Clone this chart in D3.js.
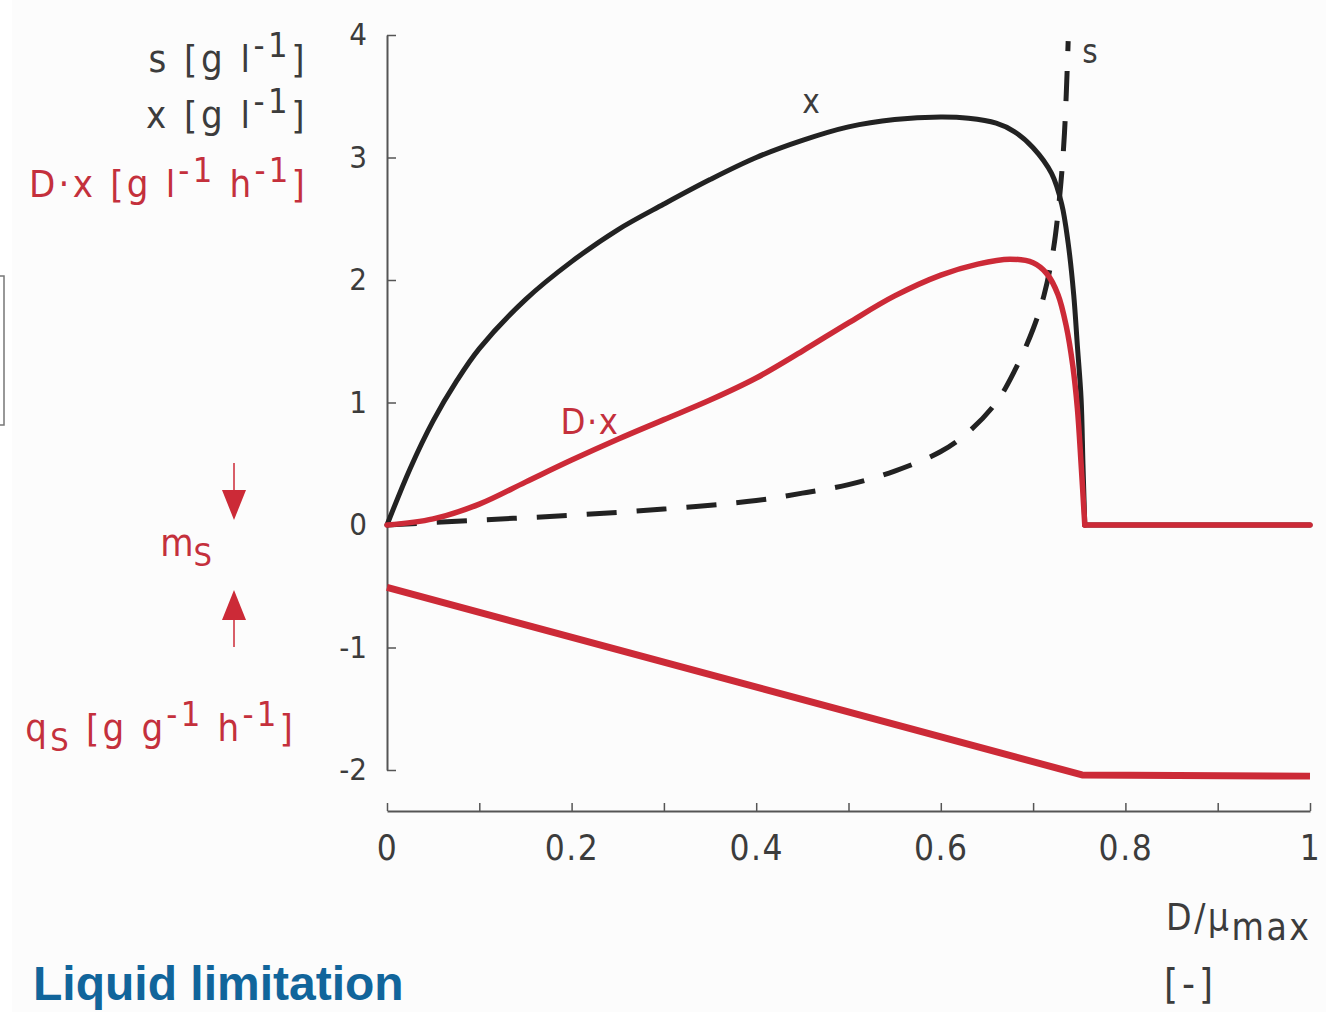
<!DOCTYPE html>
<html>
<head>
<meta charset="utf-8">
<script src="https://cdn.jsdelivr.net/npm/d3@7"></script>
<style>
  html, body { margin: 0; padding: 0; background: #ffffff; }
  svg { display: block; }
  .lbl { font-family: 'DejaVu Sans Condensed', 'DejaVu Sans', sans-serif; }
</style>
</head>
<body>
<svg id="chart" width="1326" height="1012"></svg>
<script>
// ---------- data ----------
const xTickValues = [0, 0.1, 0.2, 0.3, 0.4, 0.5, 0.6, 0.7, 0.8, 0.9, 1.0];
const xTickLabels = ["0", "", "0.2", "", "0.4", "", "0.6", "", "0.8", "", "1"];
const yTickValues = [-2, -1, 0, 1, 2, 3, 4];
const yTickLabels = ["-2", "-1", "0", "1", "2", "3", "4"];

// wash-out point (D/mu_max) where x and D·x drop to zero
const washoutD = 0.756;

// biomass x [g/l]
const biomassD = [0, 0.025, 0.05, 0.075, 0.1, 0.15, 0.2, 0.25, 0.3, 0.35, 0.4, 0.45, 0.5, 0.55, 0.6, 0.63, 0.66, 0.68, 0.7, 0.72, 0.731, 0.738, 0.744, 0.748, 0.752, 0.754, 0.756, 1.0];
const biomassX = [0, 0.46, 0.85, 1.17, 1.44, 1.84, 2.15, 2.41, 2.62, 2.82, 3.0, 3.14, 3.25, 3.31, 3.33, 3.32, 3.28, 3.21, 3.08, 2.87, 2.62, 2.3, 1.88, 1.46, 1.03, 0.5, 0, 0];

// productivity D·x [g/l/h]
const prodD = [0, 0.05, 0.1, 0.15, 0.2, 0.25, 0.3, 0.35, 0.4, 0.45, 0.5, 0.55, 0.6, 0.64, 0.675, 0.7, 0.715, 0.727, 0.736, 0.743, 0.748, 0.752, 0.756, 1.0];
const prodDx = [0, 0.05, 0.17, 0.35, 0.53, 0.7, 0.86, 1.02, 1.2, 1.42, 1.65, 1.87, 2.04, 2.13, 2.17, 2.14, 2.05, 1.88, 1.62, 1.3, 0.95, 0.5, 0, 0];

// substrate s [g/l]
const substrateD = [0, 0.1, 0.2, 0.3, 0.4, 0.45, 0.5, 0.55, 0.6, 0.63, 0.66, 0.68, 0.7, 0.712, 0.722, 0.729, 0.734, 0.738];
const substrateS = [0, 0.04, 0.08, 0.13, 0.2, 0.26, 0.33, 0.44, 0.6, 0.76, 1.0, 1.26, 1.6, 1.88, 2.25, 2.7, 3.2, 3.95];

// specific uptake rate q_s [g/g/h]
const uptakeD = [0, 0.753, 1.0];
const uptakeQ = [-0.51, -2.04, -2.05];

// ---------- drawing ----------
const RED = "#cc2a37";
const RED_TEXT = "#c4303c";
const GREY_TEXT = "#3c3c3c";
const svg = d3.select("#chart");

svg.append("rect").attr("x", 12).attr("y", 0).attr("width", 1314).attr("height", 1012).attr("fill", "#fcfcfc");

const x = d3.scaleLinear().domain([0, 1]).range([387, 1310]);
const y = d3.scaleLinear().domain([-2, 4]).range([770, 35]);

// y axis
const yAxis = d3.axisLeft(y)
  .tickValues(yTickValues)
  .tickFormat((d, i) => yTickLabels[i])
  .tickSizeInner(-9).tickSizeOuter(0).tickPadding(20);
const gy = svg.append("g").attr("transform", `translate(${x(0)},0)`).call(yAxis);
gy.select(".domain").attr("stroke", "#555").attr("stroke-width", 2);
gy.selectAll(".tick line").attr("stroke", "#555").attr("stroke-width", 1.5);
gy.selectAll(".tick text").attr("class", "lbl").attr("font-size", 31).attr("fill", GREY_TEXT);

// x axis
const xAxis = d3.axisBottom(x)
  .tickValues(xTickValues)
  .tickFormat((d, i) => xTickLabels[i])
  .tickSizeInner(-8).tickSizeOuter(0).tickPadding(24);
const gx = svg.append("g").attr("transform", "translate(0,811)").call(xAxis);
gx.select(".domain").attr("stroke", "#555").attr("stroke-width", 2);
gx.selectAll(".tick line").attr("stroke", "#555").attr("stroke-width", 1.5);
gx.selectAll(".tick text").attr("class", "lbl").attr("font-size", 35)
  .attr("letter-spacing", 1.5).attr("fill", GREY_TEXT);

const smooth = d3.line().x(d => x(d[0])).y(d => y(d[1])).curve(d3.curveCatmullRom.alpha(0.5));
const straight = d3.line().x(d => x(d[0])).y(d => y(d[1]));
const zip = (a, b) => a.map((v, i) => [v, b[i]]);

// smooth part up to wash-out, straight part afterwards
function curveWithTail(pts, color, width) {
  const head = pts.filter(p => p[0] <= washoutD);
  const tail = pts.filter(p => p[0] >= washoutD);
  const g = svg.append("g").attr("fill", "none").attr("stroke", color)
    .attr("stroke-width", width).attr("stroke-linejoin", "round").attr("stroke-linecap", "round");
  g.append("path").datum(head).attr("d", smooth);
  g.append("path").datum(tail).attr("d", straight);
}

// substrate (dashed)
svg.append("path").datum(zip(substrateD, substrateS))
  .attr("d", smooth).attr("fill", "none").attr("stroke", "#222")
  .attr("stroke-width", 5).attr("stroke-dasharray", "30,20");

// biomass
curveWithTail(zip(biomassD, biomassX), "#222", 5);

// productivity
curveWithTail(zip(prodD, prodDx), RED, 5.5);

// uptake
svg.append("path").datum(zip(uptakeD, uptakeQ))
  .attr("d", straight)
  .attr("fill", "none").attr("stroke", RED)
  .attr("stroke-width", 7).attr("stroke-linejoin", "round");

// in-plot labels
svg.append("text").attr("class", "lbl").attr("x", 811).attr("y", 113)
  .attr("text-anchor", "middle").attr("font-size", 33).attr("fill", GREY_TEXT).text("x");
svg.append("text").attr("class", "lbl").attr("x", 1090).attr("y", 63)
  .attr("text-anchor", "middle").attr("font-size", 33).attr("fill", GREY_TEXT).text("s");
svg.append("text").attr("class", "lbl").attr("x", 590).attr("y", 434)
  .attr("text-anchor", "middle").attr("font-size", 36).attr("letter-spacing", 1.5)
  .attr("fill", RED_TEXT).text("D·x");

// left unit labels
function unitLabel(parts, xr, yb, color, size, spacing) {
  const t = svg.append("text").attr("class", "lbl").attr("x", xr).attr("y", yb)
    .attr("text-anchor", "end").attr("font-size", size).attr("fill", color)
    .attr("letter-spacing", spacing);
  let shift = 0;
  parts.forEach(p => {
    const ts = t.append("tspan").text(p.t);
    const target = p.sup ? -15 : (p.sub ? 10 : 0);
    ts.attr("dy", target - shift);
    shift = target;
    if (p.sup) ts.attr("font-size", size * 0.9);
    if (p.sub) ts.attr("font-size", size * 0.85);
  });
  return t;
}
unitLabel([{t: "s [g l"}, {t: "-1", sup: true}, {t: "]"}], 308, 72, GREY_TEXT, 38, 3.5);
unitLabel([{t: "x [g l"}, {t: "-1", sup: true}, {t: "]"}], 308, 128, GREY_TEXT, 38, 3.5);
unitLabel([{t: "D·x [g l"}, {t: "-1", sup: true}, {t: " h"}, {t: "-1", sup: true}, {t: "]"}], 308, 197, RED_TEXT, 38, 3.2);
unitLabel([{t: "q"}, {t: "S", sub: true}, {t: " [g g"}, {t: "-1", sup: true}, {t: " h"}, {t: "-1", sup: true}, {t: "]"}], 296, 741, RED_TEXT, 38, 3.2);

// m_s with arrows
unitLabel([{t: "m"}, {t: "S", sub: true}], 212, 556, RED_TEXT, 38, 0);
const arr = svg.append("g").attr("fill", RED).attr("stroke", RED);
arr.append("line").attr("x1", 234).attr("x2", 234).attr("y1", 463).attr("y2", 492).attr("stroke-width", 1.5);
arr.append("path").attr("d", "M222,490 L246,490 L234,520 Z").attr("stroke", "none");
arr.append("line").attr("x1", 234).attr("x2", 234).attr("y1", 618).attr("y2", 647).attr("stroke-width", 1.5);
arr.append("path").attr("d", "M222,620 L246,620 L234,590 Z").attr("stroke", "none");

// x-axis title
const xt = svg.append("text").attr("class", "lbl").attr("x", 1166).attr("y", 930)
  .attr("font-size", 37).attr("letter-spacing", 2.5).attr("fill", GREY_TEXT);
xt.append("tspan").text("D/μ");
xt.append("tspan").attr("dy", 10).text("max");
svg.append("text").attr("class", "lbl").attr("x", 1164).attr("y", 998)
  .attr("font-size", 40).attr("letter-spacing", 4).attr("fill", GREY_TEXT).text("[-]");

// scan artifact bracket at left edge
svg.append("path").attr("d", "M0,276 H4 V425 H0").attr("fill", "none")
  .attr("stroke", "#777").attr("stroke-width", 1.5);

// title
svg.append("text").attr("x", 33).attr("y", 1000)
  .attr("font-family", "'Liberation Sans', Arial, sans-serif").attr("font-weight", "bold")
  .attr("font-size", 48).attr("fill", "#11659b").text("Liquid limitation");
</script>
</body>
</html>
